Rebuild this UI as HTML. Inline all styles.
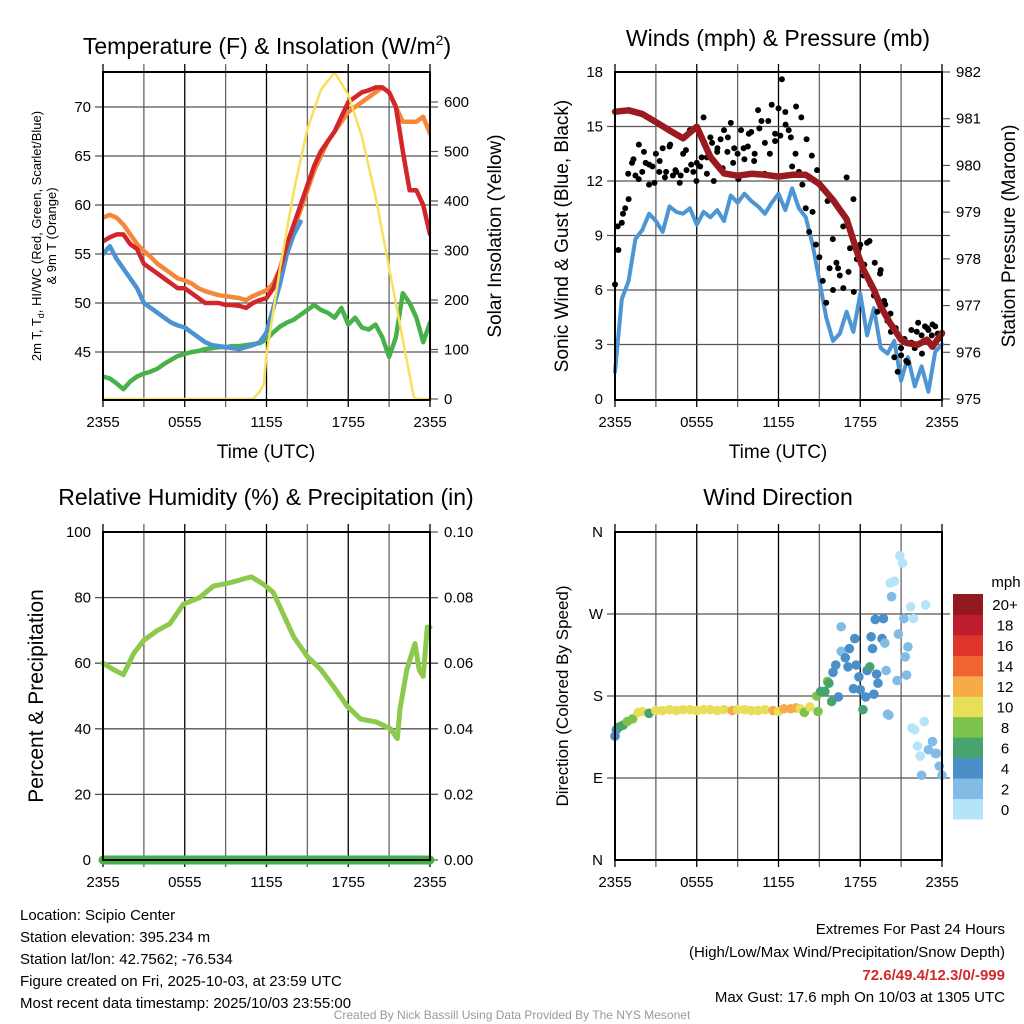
<!DOCTYPE html>
<html><head><meta charset="utf-8">
<style>
html,body{margin:0;padding:0;background:#fff;}
svg{display:block;font-family:"Liberation Sans",Arial,sans-serif;}
</style></head>
<body>
<svg id="root" width="1024" height="1024" viewBox="0 0 1024 1024" xmlns="http://www.w3.org/2000/svg">
<rect width="1024" height="1024" fill="#fff"/>
<g id="layer"></g>
<!-- titles -->
<text x="267" y="54" font-size="23" text-anchor="middle">Temperature (F) &amp; Insolation (W/m<tspan font-size="14" dy="-9">2</tspan><tspan dy="9">)</tspan></text>
<text x="778" y="46" font-size="23" text-anchor="middle">Winds (mph) &amp; Pressure (mb)</text>
<text x="266" y="505" font-size="23" text-anchor="middle">Relative Humidity (%) &amp; Precipitation (in)</text>
<text x="778" y="505" font-size="23" text-anchor="middle">Wind Direction</text>
<!-- axis titles -->
<text x="266" y="458" font-size="19" text-anchor="middle">Time (UTC)</text>
<text x="778" y="458" font-size="19" text-anchor="middle">Time (UTC)</text>
<g transform="translate(41,236) rotate(-90)">
<text x="0" y="0" font-size="13" text-anchor="middle">2m T, T<tspan font-size="9" dy="3">d</tspan><tspan dy="-3">, HI/WC (Red, Green, Scarlet/Blue)</tspan></text>
<text x="0" y="15" font-size="13" text-anchor="middle">&amp; 9m T (Orange)</text>
</g>
<text transform="translate(501,236) rotate(-90)" font-size="19" text-anchor="middle">Solar Insolation (Yellow)</text>
<text transform="translate(568,236) rotate(-90)" font-size="19" text-anchor="middle">Sonic Wind &amp; Gust (Blue, Black)</text>
<text transform="translate(1015,236) rotate(-90)" font-size="19" text-anchor="middle">Station Pressure (Maroon)</text>
<text transform="translate(43,696) rotate(-90)" font-size="21" text-anchor="middle">Percent &amp; Precipitation</text>
<text transform="translate(568,696) rotate(-90)" font-size="17" text-anchor="middle">Direction (Colored By Speed)</text>
<!-- info text -->
<g font-size="15">
<text x="20" y="920">Location: Scipio Center</text>
<text x="20" y="942">Station elevation: 395.234 m</text>
<text x="20" y="964">Station lat/lon: 42.7562; -76.534</text>
<text x="20" y="986">Figure created on Fri, 2025-10-03, at 23:59 UTC</text>
<text x="20" y="1008">Most recent data timestamp: 2025/10/03 23:55:00</text>
</g>
<g font-size="15" text-anchor="end">
<text x="1005" y="934">Extremes For Past 24 Hours</text>
<text x="1005" y="957">(High/Low/Max Wind/Precipitation/Snow Depth)</text>
<text x="1005" y="980" fill="#d12a2a" font-weight="bold">72.6/49.4/12.3/0/-999</text>
<text x="1005" y="1002">Max Gust: 17.6 mph On 10/03 at 1305 UTC</text>
</g>
<text x="512" y="1019" font-size="12" fill="#999" text-anchor="middle">Created By Nick Bassill Using Data Provided By The NYS Mesonet</text>
</svg>
<script>
// ---------- data ----------
const xTickLabels = ["2355","0555","1155","1755","2355"];
const halfHours = [0,0.5,1,1.5,2,2.5,3,3.5,4,4.5,5,5.5,6,6.5,7,7.5,8,8.5,9,9.5,10,10.5,11,11.5,12,12.5,13,13.5,14,14.5,15,15.5,16,16.5,17,17.5,18,18.5,19,19.5,20,20.5,21,21.5,22,22.5,23,23.5,24];
const tempRed = [56.3,56.7,57,57,56,55.5,54,53.5,53,52.5,52,51.5,51.5,51,50.5,50,50,50,49.8,49.8,49.7,49.5,50,50.3,50.5,51.5,53.5,56,58,60,62,64,65.5,66.5,67.5,69,70.5,71,71.5,71.7,72,72,71.5,70,65.5,61.5,61.5,60,57];
const temp9m = [58.7,59,58.7,58,57,56,55.3,54.7,54,53.5,53,52.5,52.3,52,51.5,51.2,51,50.8,50.7,50.6,50.5,50.3,50.7,51,51.3,52,53.5,55.5,57.5,59.5,61.5,63.5,65,66.5,67.5,68.5,69.5,70,70.5,71,71.5,72,71.5,70,68.5,68.5,68.5,69,67.3];
const heatIndex = [55,55.8,54.5,53.5,52.5,51.5,50,49.5,49,48.5,48,47.7,47.5,47,46.5,46,45.7,45.6,45.5,45.4,45.3,45.5,45.7,46,47,49.5,52,55,57,58.3];
const dewPoint = [42.5,42.3,41.8,41.2,42,42.5,42.8,43,43.3,43.8,44.2,44.6,44.8,45,45.1,45.3,45.4,45.5,45.5,45.6,45.6,45.7,45.8,45.9,46.3,47,47.6,48,48.3,48.8,49.3,49.8,49.3,49,48.5,49.5,47.8,48.5,47.5,47.3,47.8,46.5,44.5,46.5,51,50,48.5,46,48];
const solarHours = [0,11,11.5,11.8,12,13,14,15,16,17,18,19,20,21,22,22.8,23,24];
const solarValues = [0,0,15,30,90,265,420,545,625,660,615,530,410,265,120,5,0,0];
const windSpeed = [1.5,5.5,6.5,8.8,9.3,10.2,9.8,9.2,10.6,10.3,10.2,10.5,9.6,10.3,10,10.4,9.8,11.2,10.8,11.3,10.9,10.6,10.2,10.8,11.3,10.4,11.6,10.5,10,8.5,6.5,4.5,3.2,3.6,4.8,3.7,5.8,3.5,5,2.8,2.5,3.2,1,2.3,0.7,1.8,0.4,2.6,3];
const gusts = [6.3,8.2,9.7,10.5,11,13,12.3,14,12.5,13,11.8,12.8,13.5,12.5,13.8,12.5,13.9,12.3,12.5,11.9,13.5,12.6,14.8,12.5,13,12.8,15.5,13.3,14.4,12,13.6,14.3,14.8,13.6,15.2,13.8,13.5,14.8,13.2,13.9,14.7,13.5,15.9,15.3,14.1,15.3,16.2,14.6,16,17.6,15.8,14.8,12.8,13.5,12.5,11.8,10.5,9.2,10.3,8.5,7.8,6.5,5.3,7.2,6,7.5,6.8,9.5,12.2,8.3,11,7.7,8.5,6.8,8.6,6.3,5.7,4.8,7.1,5.4,4.3,3.7,2.3,1.5,2.4,3.3,2,3.8,2.8,4.2,3.5,4,3.8,3.5,4,3.3,3.6];
const gusts2 = [9.5,10.2,12.4,13.2,12.1,13.6,12.9,11.9,13.1,12.2,14,12.6,12.3,13.7,12.9,12,13.3,12.4,14.1,13.8,12.7,14.4,13,12.1,13.8,14.6,13.1,14.9,12.4,13.5,14.2,14.5,15.1,14.4,16.1,15.5,14.3,13.4,12.6,11.6,10.9,8.8,7.2,6.1,7,5.9,8.3,7.4,8.7,7.5,6.9,5.2,4.7,3.9,2.8,2.1,3.1,3.7,2.5,3.9,4.1,3.6];
const pressureHours = [0,1,2,3,4,5,6,7,8,9,10,11,12,13,14,15,16,17,17.8,18.25,19,19.5,20.2,21,21.4,22.2,22.9,23.3,24];
const pressure = [981.15,981.18,981.1,980.93,980.75,980.58,980.83,980.18,979.83,979.78,979.82,979.8,979.76,979.8,979.8,979.6,979.26,978.85,978.12,977.76,977.34,976.98,976.62,976.27,976.2,976.16,976.27,976.12,976.41];
const rhHours = [0,0.8,1.5,2.25,3,4,4.9,5.9,7.1,8.1,9.3,10.6,10.9,11.8,12.5,14,15,16,16.9,17.9,18.9,20.1,21.1,21.6,21.8,22.3,22.9,23.2,23.5,23.8,24];
const rhValues = [60,58,56.5,63,67,70,72,78,80,83.5,84.5,86,86.3,84,81.6,68,62,58,53,47,43,42,40,37,46,58,66,58,56,71,71];
const precipHours = [0,24];
const precipValues = [0,0];
const dirHours = [0,0.1,0.3,0.6,0.9,1.3,1.7,2,2.5,3,3.5,4,4.5,5,5.5,6,6.5,7,7.5,8,8.6,9,9.5,10,10.5,11,11.6,12,12.4,12.9,13.3,13.6,13.9,14.3,14.8,14.9,15.1,15.4,15.6,15.7,15.9,16,16.2,16.4,16.6,16.6,16.9,17.1,17.2,17.5,17.6,17.7,17.9,18,18.2,18.4,18.5,18.7,18.8,18.9,19,19.1,19.2,19.3,19.6,19.7,19.8,19.9,20,20.1,20.2,20.3,20.5,20.7,20.8,20.9,21.1,21.2,21.3,21.4,21.5,21.7,21.8,21.9,22,22.2,22.4,22.5,22.7,22.8,23,23.3,23.5,23.6,23.8,24];
const dirDegrees = [136,143,146,148,152,155,162,163,161,164,164,165,164,165,165,164,165,165,164,165,164,165,165,164,164,165,164,163,166,166,167,166,162,168,180,163,185,185,196,194,174,206,214,179,256,229,222,212,232,188,243,214,201,187,165,179,208,212,245,232,182,264,204,194,243,265,238,208,160,159,304,289,306,197,248,334,326,265,223,203,234,278,145,265,143,125,114,93,152,280,121,130,117,117,103,93];
const dirSpeeds = [4.5,4.5,6.5,6.5,8.5,8.5,10.5,10.5,6.5,10.5,10.5,10.5,10.5,10.5,10.5,10.5,10.5,10.5,10.5,10.5,12.5,10.5,10.5,10.5,10.5,10.5,12.5,10.5,12.5,12.5,12.5,10.5,8.5,10.5,8.5,8.5,6.5,6.5,8.5,6.5,6.5,4.5,4.5,4.5,2.5,2.5,4.5,4.5,4.5,4.5,4.5,4.5,4.5,4.5,6.5,4.5,4.5,6.5,4.5,4.5,4.5,4.5,4.5,4.5,4.5,4.5,2.5,2.5,2.5,2.5,0.5,2.5,0.5,2.5,2.5,0.5,0.5,2.5,2.5,2.5,2.5,0.5,0.5,0.5,0.5,0.5,0.5,2.5,0.5,0.5,2.5,2.5,2.5,2.5,2.5,2.5];
const speedLabels = ["0","2","4","6","8","10","12","14","16","18","20+"];
const speedColors = ["#b5e3f8","#80bce6","#4a8fc8","#48a46e","#7cc24b","#e7df5a","#f6ab48","#ef6430","#dd352a","#bd1d2c","#921a1e"];

// ---------- helpers ----------
const NS="http://www.w3.org/2000/svg";
const layer=document.getElementById('layer');
function el(tag,attrs,parent){const e=document.createElementNS(NS,tag);for(const k in attrs)e.setAttribute(k,attrs[k]);(parent||layer).appendChild(e);return e;}
function lin(d0,d1,r0,r1){return v=>r0+(v-d0)*(r1-r0)/(d1-d0);}

function panelFrame(name,x0,x1,y0,y1,yGrid,yScale,leftTicks,rightTicks){
  const g=el('g',{});
  
  
  const xs=lin(0,24,x0,x1);
  for(let h=0;h<=24;h+=3){
    const x=xs(h);
    el('line',{x1:x,x2:x,y1:y0-8,y2:y1+7,stroke:(h%6===0)?'#000':'#666','stroke-width':1.3},g);
  }
  yGrid.forEach(v=>{const y=yScale(v);el('line',{x1:x0-8,x2:x1+8,y1:y,y2:y,stroke:'#555','stroke-width':1.3},g);});
  xTickLabels.forEach((t,i)=>{
    const tx=el('text',{x:xs(i*6),y:y1+27,'font-size':15,'text-anchor':'middle'},g);
    tx.textContent=t;
  });
  leftTicks.forEach(([v,lab,fn])=>{const y=fn(v);const t=el('text',{x:x0-12,y:y+5,'font-size':15,'text-anchor':'end'},g);t.textContent=lab;});
  rightTicks.forEach(([v,lab,fn])=>{const y=fn(v);el('line',{x1:x1,x2:x1+8,y1:y,y2:y,stroke:'#555','stroke-width':1.2},g);const t=el('text',{x:x1+14,y:y+5,'font-size':15,'text-anchor':'start'},g);t.textContent=lab;});
  return {xs,g};
}
function frameBox(name,x0,x1,y0,y1){
  const r=el('rect',{x:x0,y:y0,width:x1-x0,height:y1-y0,fill:'none',stroke:'#000','stroke-width':2});
  
  
}
function line(name,xsArr,ysArr,xf,yf,color,w){
  const pts=xsArr.slice(0,ysArr.length).map((h,i)=>xf(h).toFixed(1)+','+yf(ysArr[i]).toFixed(1)).join(' ');
  const p=el('polyline',{points:pts,fill:'none',stroke:color,'stroke-width':w,'stroke-linejoin':'round','stroke-linecap':'round'});
  
  
  return p;
}

// ---------- panel 1: temperature ----------
{
  const x0=103,x1=430,y0=72,y1=400;
  const ty=lin(45,70,352,107);
  const sy=lin(0,600,399,102);
  const leftT=[45,50,55,60,65,70].map(v=>[v,String(v),ty]);
  const rightT=[0,100,200,300,400,500,600].map(v=>[v,String(v),sy]);
  const {xs}=panelFrame('temperature',x0,x1,y0,y1,[45,50,55,60,65,70],ty,leftT,rightT);
  const cp=el('clipPath',{id:'c1'});el('rect',{x:x0,y:y0,width:x1-x0,height:y1-y0},cp);
  const clipG=el('g',{'clip-path':'url(#c1)'});
  const add=(n,xa,ya,yf,c,w)=>{const p=line(n,xa,ya,xs,yf,c,w);clipG.appendChild(p);};
  add('dewpoint-line',halfHours,dewPoint,ty,'#49b14a',4.5);
  add('9m-temperature-line',halfHours,temp9m,ty,'#f5873a',4.5);
  add('heat-index-line',halfHours,heatIndex,ty,'#4b93d1',4.5);
  add('2m-temperature-line',halfHours,tempRed,ty,'#d3262b',4.5);
  add('solar-insolation-line',solarHours,solarValues,sy,'#f8df5c',2.5);
  frameBox('temperature',x0,x1,y0,y1);
}
// ---------- panel 2: winds ----------
{
  const x0=615,x1=942,y0=72,y1=400;
  const wy=lin(0,18,399,72);
  const py=lin(975,982,399,72);
  const leftT=[0,3,6,9,12,15,18].map(v=>[v,String(v),wy]);
  const rightT=[975,976,977,978,979,980,981,982].map(v=>[v,String(v),py]);
  const {xs}=panelFrame('winds',x0,x1,y0,y1,[3,6,9,12,15],wy,leftT,rightT);
  line('sonic-wind-line',halfHours,windSpeed,xs,wy,'#4d95d3',4);
  const gg=el('g',{});
  
  
  gusts.forEach((v,i)=>{
    const c=el('circle',{cx:xs(i*0.25),cy:wy(v),r:3,fill:'#000'},gg);
    
    
  });
  gusts2.forEach((v,i)=>{
    const c=el('circle',{cx:xs(0.2+i*0.385),cy:wy(v),r:3,fill:'#000'},gg);
    
    
  });
  line('pressure-line',pressureHours,pressure,xs,py,'#9a1b1f',6.5);
  frameBox('winds',x0,x1,y0,y1);
}
// ---------- panel 3: humidity ----------
{
  const x0=103,x1=430,y0=532,y1=860;
  const ry=lin(0,100,860,532);
  const pry=lin(0,0.1,860,532);
  const leftT=[0,20,40,60,80,100].map(v=>[v,String(v),ry]);
  const rightT=[0,0.02,0.04,0.06,0.08,0.1].map(v=>[v,v.toFixed(2),pry]);
  const {xs}=panelFrame('humidity',x0,x1,y0,y1,[20,40,60,80],ry,leftT,rightT);
  line('relative-humidity-line',rhHours,rhValues,xs,ry,'#8cc94c',5);
  line('precipitation-line',precipHours,precipValues,xs,pry,'#45af48',9);
  frameBox('humidity',x0,x1,y0,y1);
}
// ---------- panel 4: wind direction ----------
{
  const x0=615,x1=942,y0=532,y1=860;
  const dy=lin(0,360,860,532);
  const leftT=[[0,'N',dy],[90,'E',dy],[180,'S',dy],[270,'W',dy],[360,'N',dy]];
  const {xs}=panelFrame('direction',x0,x1,y0,y1,[90,180,270],dy,leftT,[]);
  const dg=el('g',{});
  
  
  dirHours.forEach((h,i)=>{
    const b=Math.min(10,Math.floor(dirSpeeds[i]/2));
    const c=el('circle',{cx:xs(h),cy:dy(dirDegrees[i]),r:4.8,fill:speedColors[b]},dg);
    
    
  });
  frameBox('direction',x0,x1,y0,y1);
  // colorbar
  const cb=el('g',{});
  
  
  const bh=(819-594)/11;
  speedColors.forEach((c,i)=>{
    const y=819-(i+1)*bh;
    const r=el('rect',{x:953,y:y,width:30,height:bh+0.5,fill:c},cb);
    
    
    const t=el('text',{x:1005,y:y+bh/2+6,'font-size':15,'text-anchor':'middle'},cb);
    t.textContent=speedLabels[i];
  });
  const u=el('text',{x:1006,y:587,'font-size':15,'text-anchor':'middle'},cb);
  u.textContent='mph';
}
</script>
</body></html>
